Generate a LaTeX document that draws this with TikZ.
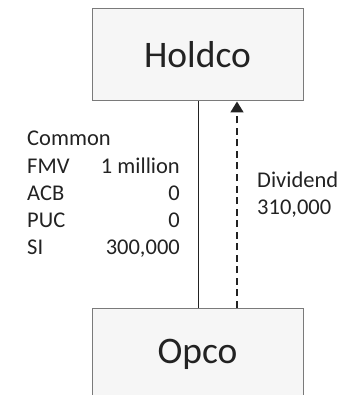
\documentclass[tikz,border=0pt]{standalone}
\usepackage{fontspec}
\setmainfont{Carlito}
\usetikzlibrary{arrows.meta,calc}
\definecolor{boxfill}{HTML}{F6F6F6}
\definecolor{boxline}{HTML}{7A7A7A}
\definecolor{txt}{HTML}{222222}
\begin{document}
\begin{tikzpicture}[x=1pt,y=1pt,
  entity/.style={draw=boxline,fill=boxfill,line width=1pt,minimum width=211pt,minimum height=92pt,inner sep=0pt,text=txt,font=\fontsize{37.5}{45}\selectfont},
  lbl/.style={inner sep=0pt,text=txt,font=\fontsize{22.5}{27}\selectfont},
  own/.style={line width=0.9pt,draw=txt},
  divflow/.style={line width=1.8pt,draw=txt,dash pattern=on 7pt off 4.5pt,-{Triangle[length=11pt,width=13pt]}}]
\useasboundingbox (0,0) rectangle (347,-395);
\begin{scope}
\clip (0,0) rectangle (347,-395);
\node[entity] (holdco) at (197.5,-55) {Holdco};
\node[entity] (opco) at (197.5,-354) {Opco};
\end{scope}
\coordinate (sbot) at ($(opco.north)+(0.5,0)$);
\coordinate (stop) at ($(holdco.south)+(0.5,0)$);
\coordinate (dbot) at ($(opco.north)+(39.5,0)$);
\coordinate (dtop) at ($(holdco.south)+(39.5,0)$);
\draw[own] (sbot) -- (stop);
\draw[divflow] (dbot) -- (dtop);
\node[lbl,anchor=base west] (common) at (27,-146) {Common};
\node[lbl,anchor=base west] (fmv) at (27,-173) {FMV};
\node[lbl,anchor=base east] (fmvv) at (180,-173) {1 million};
\node[lbl,anchor=base west] (acb) at (27,-200) {ACB};
\node[lbl,anchor=base east] (acbv) at (180,-200) {0};
\node[lbl,anchor=base west] (puc) at (27,-227) {PUC};
\node[lbl,anchor=base east] (pucv) at (180,-227) {0};
\node[lbl,anchor=base west] (si) at (27,-254) {SI};
\node[lbl,anchor=base east] (siv) at (180,-254) {300,000};
\node[lbl,anchor=base west] (div) at (257,-187) {Dividend};
\node[lbl,anchor=base west] (divv) at (257,-214) {310,000};
\end{tikzpicture}
\end{document}
